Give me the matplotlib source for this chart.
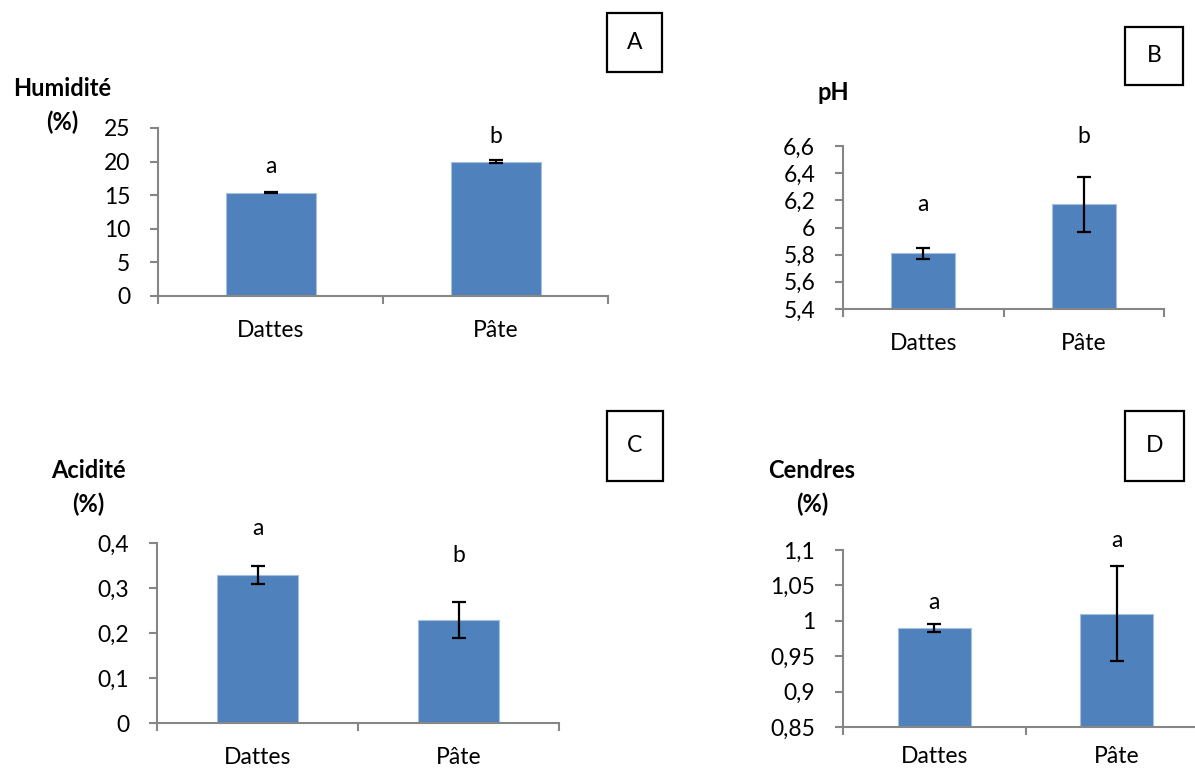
import matplotlib
matplotlib.use("Agg")
import matplotlib.pyplot as plt
from matplotlib.patches import Rectangle
from matplotlib.ticker import FixedLocator, FuncFormatter

plt.rcParams['font.family'] = ['Lato', 'DejaVu Sans']

W, H = 1195, 769
DPI = 100

categories = ["Dattes", "Pâte"]

humidite = [15.4, 20.0]
humidite_err = [0.1, 0.2]
humidite_letters = ["a", "b"]

ph = [5.81, 6.17]
ph_err = [0.04, 0.20]
ph_letters = ["a", "b"]

acidite = [0.33, 0.23]
acidite_err = [0.02, 0.04]
acidite_letters = ["a", "b"]

cendres = [0.99, 1.01]
cendres_err = [0.006, 0.067]
cendres_letters = ["a", "a"]

BLUE = "#4F81BD"
GREY = "#868686"
FS = 16.5

fig = plt.figure(figsize=(W / DPI, H / DPI), dpi=DPI)


def px_axes(left, right, top, bottom):
    # pixel box (from top-left) -> figure fraction
    return fig.add_axes([left / W, 1 - bottom / H, (right - left) / W, (bottom - top) / H])


def dec(v, pos):
    return ("%g" % v).replace(".", ",")


def panel(rect, vals, errs, letters, letter_y, ylim, yticks, ylabel, label_xy, box, box_txt,
          xpad=17):
    ax = px_axes(*rect)
    x = range(len(vals))
    ax.bar(x, vals, width=0.4, color=BLUE, edgecolor="#A7BFDE", linewidth=0.8, zorder=2)
    ax.errorbar(x, vals, yerr=errs, fmt="none", ecolor="black", elinewidth=1.6,
                capsize=5, capthick=1.6, zorder=3)
    for xi, lab, ly in zip(x, letters, letter_y):
        ax.text(xi, ly, lab, ha="center", va="center", fontsize=FS, clip_on=False)
    ax.set_xlim(-0.5, len(vals) - 0.5)
    ax.set_ylim(*ylim)
    ax.yaxis.set_major_locator(FixedLocator(yticks))
    ax.yaxis.set_major_formatter(FuncFormatter(dec))
    ax.xaxis.set_major_locator(FixedLocator([-0.5, 0.5, 1.5]))
    ax.xaxis.set_major_formatter(FuncFormatter(lambda v, p: ""))
    ax.xaxis.set_minor_locator(FixedLocator(list(x)))
    ax.set_xticklabels(categories, minor=True)
    for s in ("top", "right"):
        ax.spines[s].set_visible(False)
    for s in ("left", "bottom"):
        ax.spines[s].set_color(GREY)
        ax.spines[s].set_linewidth(1.5)
    ax.tick_params(axis="y", which="major", direction="out", length=6, width=1.5,
                   color=GREY, labelsize=FS, pad=14)
    ax.tick_params(axis="x", which="major", direction="out", length=6, width=1.5, color=GREY)
    ax.tick_params(axis="x", which="minor", length=0, labelsize=FS, pad=xpad)
    ax.patch.set_alpha(0)

    # axis title, one line per text
    for i, line in enumerate(ylabel):
        fig.text(label_xy[0] / W, 1 - (label_xy[1] + 33 * i) / H, line, ha="center",
                 va="center", fontsize=17, fontweight="bold")

    bx0, bx1, by0, by1 = box
    fig.patches.append(Rectangle((bx0 / W, 1 - by1 / H), (bx1 - bx0) / W, (by1 - by0) / H,
                                 transform=fig.transFigure, fill=False,
                                 edgecolor="black", linewidth=1.6))
    fig.text((bx0 + bx1) / 2 / W, 1 - (by0 + by1) / 2 / H, box_txt, ha="center",
             va="center", fontsize=FS)
    return ax


panel((158, 608, 128, 296), humidite, humidite_err, humidite_letters, [19.2, 23.8],
      (0, 25), [0, 5, 10, 15, 20, 25], ["Humidité", "(%)"], (62, 89),
      (607, 662, 13, 72), "A")

panel((843, 1164, 146, 309), ph, ph_err, ph_letters, [6.17, 6.67],
      (5.4, 6.6), [5.4, 5.6, 5.8, 6.0, 6.2, 6.4, 6.6], ["pH"], (833, 93),
      (1125, 1183, 27, 85), "B")

panel((157, 559, 543, 723), acidite, acidite_err, acidite_letters, [0.433, 0.372],
      (0, 0.4), [0, 0.1, 0.2, 0.3, 0.4], ["Acidité", "(%)"], (88, 471),
      (607, 663, 411, 481), "C")

panel((843, 1208, 550, 727), cendres, cendres_err, cendres_letters, [1.026, 1.114],
      (0.85, 1.1), [0.85, 0.9, 0.95, 1.0, 1.05, 1.1], ["Cendres", "(%)"], (812, 471),
      (1125, 1184, 411, 481), "D", xpad=14)

fig.savefig("out.png", dpi=DPI)
